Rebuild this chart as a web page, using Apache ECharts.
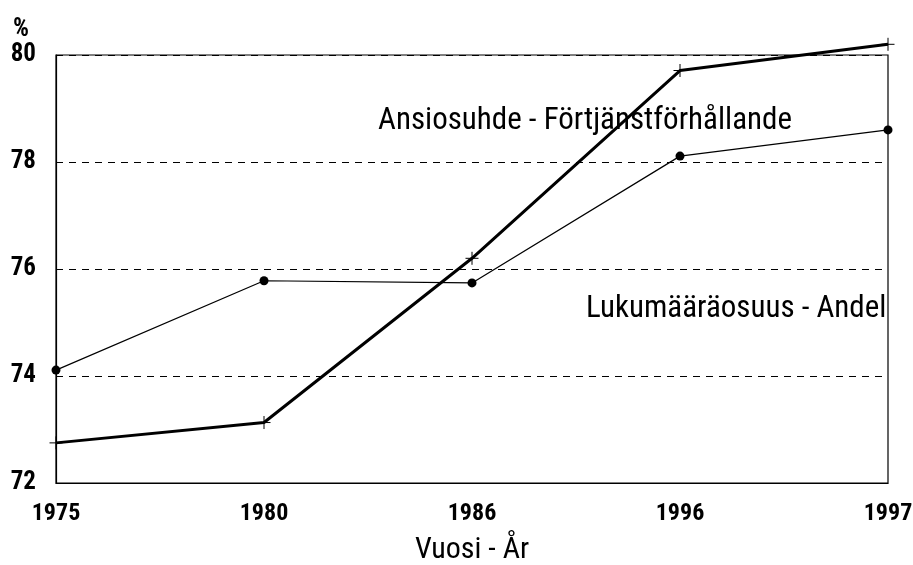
<!DOCTYPE html>
<html>
<head>
<meta charset="utf-8">
<script src="https://cdn.jsdelivr.net/npm/echarts@6/dist/echarts.min.js"></script>
<style>
html,body{margin:0;padding:0;background:#fff;}
#main{width:913px;height:565px;}
</style>
</head>
<body>
<div id="main"></div>
<script>
// vuodet ja arvot
var years = ['1975', '1980', '1986', '1996', '1997'];
var ansiosuhde = [72.75, 73.13, 76.2, 79.71, 80.2];      // Ansiosuhde - Förtjänstförhållande
var lukumaara = [74.11, 75.78, 75.74, 78.11, 78.6];      // Lukumääräosuus - Andel
var yTicks = [72, 74, 76, 78, 80];

var fnt = '"Roboto Condensed","Open Sans Condensed","DejaVu Sans Condensed",sans-serif';
var crossPath = 'path://M5,0 L5,10 M0,5 L10,5';

var myChart = echarts.init(document.getElementById('main'));
var option = {
  backgroundColor: '#fff',
  animation: false,
  grid: {
    left: 56,
    right: 25,
    top: 55,
    bottom: 82,
    containLabel: false,
    outerBoundsMode: 'none',
    show: true,
    borderColor: '#000',
    borderWidth: 1.2
  },
  xAxis: {
    type: 'category',
    data: years,
    boundaryGap: false,
    axisLine: { lineStyle: { color: '#000', width: 1.2 } },
    axisTick: { show: false },
    axisLabel: {
      color: '#000',
      fontFamily: fnt,
      fontWeight: 'bold',
      fontSize: 24,
      margin: 19
    },
    name: 'Vuosi - År',
    nameLocation: 'middle',
    nameGap: 52,
    nameTextStyle: { color: '#000', fontFamily: fnt, fontSize: 30 }
  },
  yAxis: {
    type: 'value',
    min: yTicks[0],
    max: yTicks[yTicks.length - 1],
    interval: 2,
    axisLine: { show: true, lineStyle: { color: '#000', width: 1.2 } },
    axisTick: { show: false },
    axisLabel: {
      color: '#000',
      fontFamily: fnt,
      fontWeight: 'bold',
      fontSize: 25,
      margin: 20
    },
    splitLine: {
      lineStyle: { color: '#000', type: [7, 6], width: 1 }
    }
  },
  graphic: [
    { type: 'text', x: 13, y: 30, style: { text: '%', font: 'bold 25px ' + fnt, fill: '#000', verticalAlign: 'middle' } },
    { type: 'text', x: 378, y: 121, style: { text: 'Ansiosuhde - Förtjänstförhållande', font: '31px ' + fnt, fill: '#000', verticalAlign: 'middle' } },
    { type: 'text', x: 586, y: 309, style: { text: 'Lukumääräosuus - Andel', font: '31px ' + fnt, fill: '#000', verticalAlign: 'middle' } }
  ],
  series: [
    {
      name: 'Lukumääräosuus - Andel',
      type: 'line',
      data: lukumaara,
      symbol: 'circle',
      symbolSize: 9,
      clip: false,
      lineStyle: { color: '#000', width: 1.2 },
      itemStyle: { color: '#000' }
    },
    {
      name: 'Ansiosuhde - Förtjänstförhållande',
      type: 'line',
      data: ansiosuhde,
      symbol: crossPath,
      symbolSize: 13,
      clip: false,
      lineStyle: { color: '#000', width: 3 },
      itemStyle: { color: 'none', borderColor: '#000', borderWidth: 1 }
    }
  ]
};
myChart.setOption(option);
</script>
</body>
</html>
